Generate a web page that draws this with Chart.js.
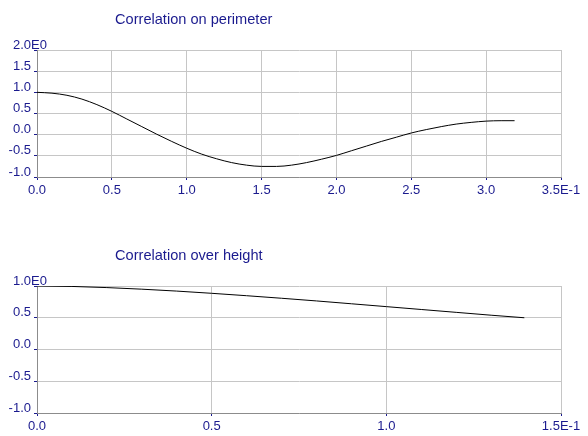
<!DOCTYPE html>
<html>
<head>
<meta charset="utf-8">
<script src="https://cdn.jsdelivr.net/npm/chart.js@4/dist/chart.umd.min.js"></script>
<style>
  html, body { margin: 0; padding: 0; background: #fff; }
  #wrap { position: relative; width: 588px; height: 436px; }
  canvas { position: absolute; left: 0; }
  #perimeter { top: 0; }
  #height { top: 218px; }
</style>
</head>
<body>
<div id="wrap">
  <canvas id="perimeter" width="588" height="218"></canvas>
  <canvas id="height" width="588" height="218"></canvas>
</div>
<script>
// correlation on perimeter
var perimX = [0.0, 0.1, 0.2, 0.3, 0.4, 0.5, 0.6, 0.7, 0.8, 0.9, 1.0, 1.1, 1.2, 1.3, 1.4, 1.5,
              1.6, 1.7, 1.8, 1.9, 2.0, 2.1, 2.2, 2.3, 2.4, 2.5, 2.6, 2.7, 2.8, 2.9, 3.0, 3.1, 3.19];
var perimR = [1.00, 0.98, 0.93, 0.84, 0.71, 0.55, 0.37, 0.19, 0.01, -0.16, -0.32, -0.46, -0.57, -0.66, -0.72, -0.75,
              -0.75, -0.72, -0.66, -0.58, -0.49, -0.38, -0.27, -0.16, -0.06, 0.04, 0.12, 0.19, 0.25, 0.29, 0.32, 0.33, 0.33];

// correlation over height
var heightX = [0.0, 0.1, 0.2, 0.3, 0.4, 0.5, 0.6, 0.7, 0.8, 0.9, 1.0, 1.1, 1.2, 1.3, 1.395];
var heightR = [1.0, 0.993, 0.975, 0.95, 0.92, 0.885, 0.847, 0.807, 0.765, 0.72, 0.675, 0.63, 0.585, 0.54, 0.50];

var perimXTicks = { min: 0, max: 3.5, step: 0.5, exp: 'E-1' };
var perimYTicks = { min: -1, max: 2, step: 0.5, exp: 'E0' };
var heightXTicks = { min: 0, max: 1.5, step: 0.5, exp: 'E-1' };
var heightYTicks = { min: -1, max: 1, step: 0.5, exp: 'E0' };

var TEXT = '#1a1a8e';
var FONT = '"Liberation Sans", Arial, sans-serif';
var TICK_SIZE = 13;

Chart.defaults.font.family = FONT;
Chart.defaults.color = TEXT;

// title + exponent of the top y label
var extras = {
    id: 'extras',
    afterDraw: function (chart, args, opts) {
        var ctx = chart.ctx;
        var ys = chart.scales.y;
        ctx.save();
        ctx.fillStyle = TEXT;
        ctx.textAlign = 'left';
        ctx.textBaseline = 'alphabetic';
        ctx.font = '14.6px ' + FONT;
        ctx.fillText(opts.title, 115, opts.titleY);
        ctx.font = TICK_SIZE + 'px ' + FONT;
        ctx.textBaseline = 'middle';
        ctx.fillText(opts.exp, ys.right - 3 - 3, ys.getPixelForValue(ys.max) - 5);
        ctx.restore();
    }
};

function points(xs, ys) {
    return xs.map(function (x, i) { return { x: x, y: ys[i] }; });
}

function makeChart(id, xs, ys, xt, yt, title, titleY, padTop, xHeight) {
    var ctx = document.getElementById(id).getContext('2d');
    return new Chart(ctx, {
        type: 'scatter',
        data: {
            datasets: [{
                data: points(xs, ys),
                showLine: true,
                borderColor: '#000',
                borderWidth: 1,
                pointRadius: 0,
                cubicInterpolationMode: 'monotone',
                fill: false
            }]
        },
        options: {
            responsive: false,
            animation: false,
            layout: { padding: { top: padTop, right: 27, left: 0, bottom: 0 } },
            plugins: {
                legend: { display: false },
                tooltip: { enabled: false },
                extras: { title: title, titleY: titleY, exp: yt.exp }
            },
            scales: {
                x: {
                    type: 'linear',
                    min: xt.min, max: xt.max,
                    afterFit: function (s) { s.height = xHeight; },
                    grid: { color: '#c6c6c6', tickColor: TEXT, tickLength: 3 },
                    border: { color: '#8c8c8c' },
                    ticks: {
                        stepSize: xt.step,
                        padding: 3,
                        maxRotation: 0,
                        font: { size: TICK_SIZE },
                        callback: function (v) {
                            var s = v.toFixed(1);
                            return v === xt.max ? s + xt.exp : s;
                        }
                    }
                },
                y: {
                    type: 'linear',
                    min: yt.min, max: yt.max,
                    afterFit: function (s) { s.width = 37; },
                    grid: { color: '#c6c6c6', tickColor: TEXT, tickLength: 3 },
                    border: { color: '#8c8c8c' },
                    ticks: {
                        stepSize: yt.step,
                        padding: 3,
                        labelOffset: -5,
                        font: { size: TICK_SIZE },
                        callback: function (v) { return v.toFixed(1); }
                    }
                }
            }
        },
        plugins: [extras]
    });
}

makeChart('perimeter', perimX, perimR, perimXTicks, perimYTicks, 'Correlation on perimeter', 24, 50, 41);
makeChart('height', heightX, heightR, heightXTicks, heightYTicks, 'Correlation over height', 42, 68, 23);
</script>
</body>
</html>
